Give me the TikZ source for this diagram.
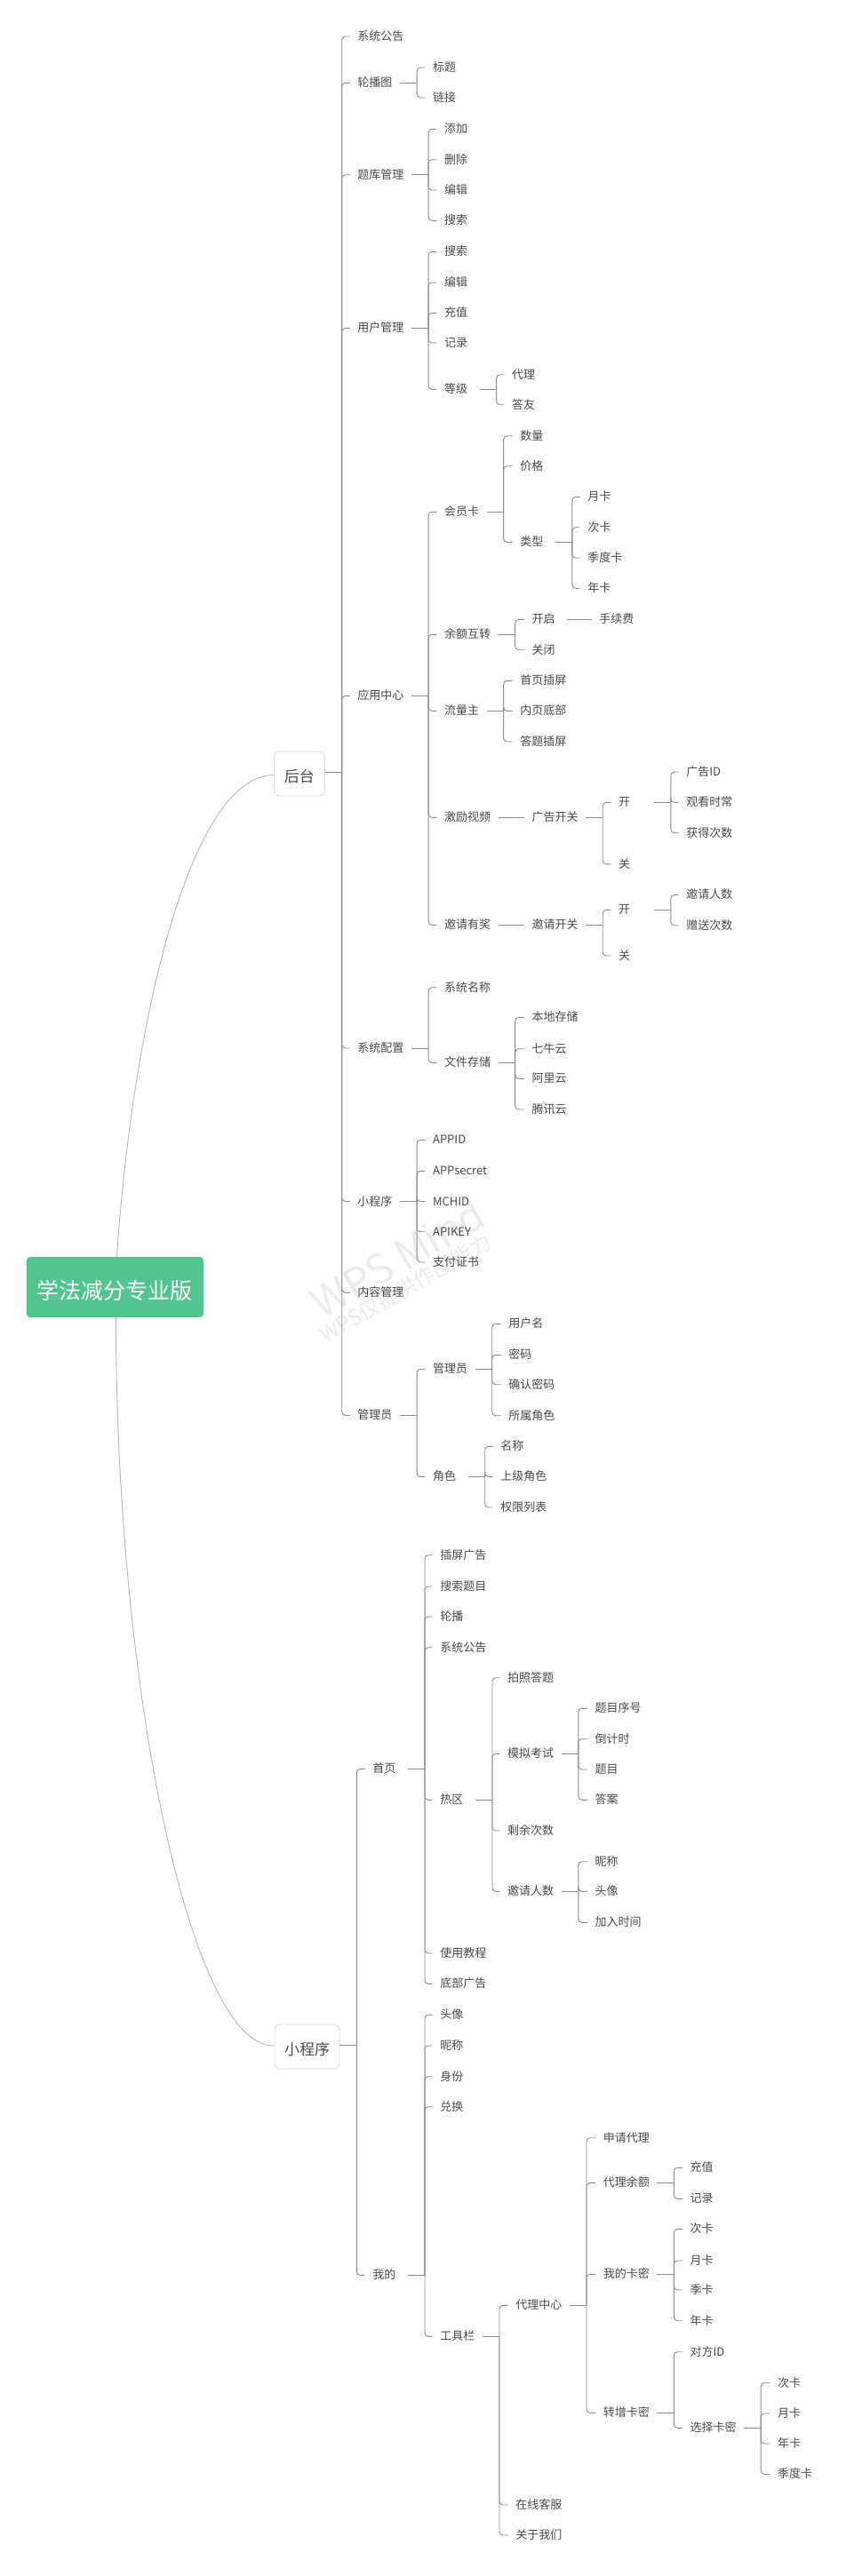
\documentclass[tikz,border=0pt]{standalone}
\usepackage{fontspec}
\setmainfont{Noto Sans CJK SC}
\newcommand{\minw}[1]{\setbox0\hbox{#1}\ifdim\wd0<31pt \hbox to 31pt{\box0\hss}\else\box0\fi}
\newcommand{\nd}[4]{\node[lbl] (#1) at (#2,#3) {\minw{#4}};}
\newcommand{\branch}[2]{\draw[conn] #1 -- ++(19,0) coordinate (tk);
  \foreach \c in {#2} {\draw[conn] (tk) |- (\c.west);}}
\newcommand{\link}[2]{\draw[conn] (#1.east) -- (#2.west);}
\definecolor{rootgreen}{HTML}{52C58F}
\definecolor{txt}{HTML}{4A4A4A}
\definecolor{ln}{HTML}{8C8C8C}
\tikzset{
  lbl/.style={anchor=west,xshift=-8.5pt,inner xsep=8.5pt,inner ysep=0pt,text height=10.5pt,text depth=1.5pt,font=\fontsize{13}{13}\selectfont,text=txt},
  conn/.style={draw=ln,line width=0.9pt,rounded corners=4pt},
  curve/.style={draw=black!28,line width=0.9pt},
  rootbox/.style={fill=rootgreen,rounded corners=4pt,minimum width=199pt,minimum height=68pt,inner sep=0pt,text=white,font=\fontsize{25}{25}\selectfont,text height=27pt,text depth=0pt},
  topbox/.style={draw=black!14,fill=white,rounded corners=6pt,line width=0.9pt,inner sep=0pt,minimum height=50pt,text=txt,font=\fontsize{17}{17}\selectfont,text height=19pt,text depth=0pt},
  wm/.style={text=black!8,rotate=30,inner sep=0pt}
}
\begin{document}
\begin{tikzpicture}[x=0.9957pt,y=-1pt]
\useasboundingbox (0,0) rectangle (956.1,2900);
\fill[white] (0,0) rectangle (956.1,2900);
\node[wm,font=\fontsize{46.5}{46.5}\selectfont] (wma) at (449,1416) {WPS Mind};
\node[wm,font=\fontsize{24}{24}\selectfont] (wmb) at (458,1450) {WPS仅提供作图能力};
\node[rootbox] (root) at (130,1449) {学法减分专业版};
\node[topbox,minimum width=57pt] (ht) at (338.3,871) {后台};
\node[topbox,minimum width=73pt] (xcx) at (347,2304) {小程序};
\draw[curve] ([xshift=2pt]root.north) .. controls (150,1150) and (215,872.7) .. ([yshift=-1.5pt]ht.west);
\draw[curve] ([xshift=1pt]root.south) .. controls (131,1900) and (215,2305) .. ([yshift=1pt]xcx.west);
% 后台
\nd{a1}{404}{41}{系统公告}
\nd{a2}{404}{93.3}{轮播图}
\nd{a3}{404}{196.7}{题库管理}
\nd{a4}{404}{369.3}{用户管理}
\nd{a5}{404}{783.3}{应用中心}
\nd{a6}{404}{1180}{系统配置}
\nd{a7}{404}{1352.5}{小程序}
\nd{a8}{404}{1455.3}{内容管理}
\nd{a9}{404}{1593.3}{管理员}
\nd{b1}{489}{76}{标题}
\nd{b2}{489}{110}{链接}
\nd{c1}{502}{145.3}{添加}
\nd{c2}{502}{179.7}{删除}
\nd{c3}{502}{214}{编辑}
\nd{c4}{502}{248.3}{搜索}
\nd{d1}{502}{283.3}{搜索}
\nd{d2}{502}{318}{编辑}
\nd{d3}{502}{352.3}{充值}
\nd{d4}{502}{386}{记录}
\nd{d5}{502}{438.3}{等级}
\nd{d6}{578.4}{421.7}{代理}
\nd{d7}{578.4}{455.7}{答友}
\nd{e1}{502}{576.3}{会员卡}
\nd{e2}{502}{714.3}{余额互转}
\nd{e3}{502}{800.3}{流量主}
\nd{e4}{502}{920.3}{激励视频}
\nd{e5}{502}{1041.3}{邀请有奖}
\nd{f1}{587.6}{490.7}{数量}
\nd{f2}{587.6}{524.7}{价格}
\nd{f3}{587.6}{610.3}{类型}
\nd{g1}{664}{559.3}{月卡}
\nd{g2}{664}{593.7}{次卡}
\nd{g3}{664}{628}{季度卡}
\nd{g4}{664}{662.3}{年卡}
\nd{h1}{601}{697.3}{开启}
\nd{h2}{601}{731.7}{关闭}
\nd{h3}{677}{697.3}{手续费}
\nd{i1}{587.6}{766.3}{首页插屏}
\nd{i2}{587.6}{800.3}{内页底部}
\nd{i3}{587.6}{835}{答题插屏}
\nd{j1}{601}{920.3}{广告开关}
\nd{j2}{699}{903.3}{开}
\nd{j3}{699}{972.8}{关}
\nd{j4}{775.5}{869}{广告ID}
\nd{j5}{775.5}{903.3}{观看时常}
\nd{j6}{775.5}{937.7}{获得次数}
\nd{k1}{601}{1041.3}{邀请开关}
\nd{k2}{699}{1024.3}{开}
\nd{k3}{699}{1076}{关}
\nd{k4}{775.5}{1007.3}{邀请人数}
\nd{k5}{775.5}{1042}{赠送次数}
\nd{l1}{502}{1111.7}{系统名称}
\nd{l2}{502}{1196.3}{文件存储}
\nd{l3}{601}{1145.3}{本地存储}
\nd{l4}{601}{1180.7}{七牛云}
\nd{l5}{601}{1214.3}{阿里云}
\nd{l6}{601}{1249}{腾讯云}
\nd{m1}{489}{1283.3}{APPID}
\nd{m2}{489}{1318.3}{APPsecret}
\nd{m3}{489}{1352.5}{MCHID}
\nd{m4}{489}{1386.7}{APIKEY}
\nd{m5}{489}{1421}{支付证书}
\nd{n1}{489}{1541.3}{管理员}
\nd{n2}{489}{1662.3}{角色}
\nd{n3}{574.7}{1490.3}{用户名}
\nd{n4}{574.7}{1525.3}{密码}
\nd{n5}{574.7}{1558.7}{确认密码}
\nd{n6}{574.7}{1593.7}{所属角色}
\nd{n7}{565.6}{1628.3}{名称}
\nd{n8}{565.6}{1662.3}{上级角色}
\nd{n9}{565.6}{1697}{权限列表}
% 小程序
\nd{p1}{421}{1991.3}{首页}
\nd{p2}{421}{2561.3}{我的}
\nd{q1}{497.3}{1750.7}{插屏广告}
\nd{q2}{497.3}{1786}{搜索题目}
\nd{q3}{497.3}{1820}{轮播}
\nd{q4}{497.3}{1854.7}{系统公告}
\nd{q5}{497.3}{2026.3}{热区}
\nd{q6}{497.3}{2199}{使用教程}
\nd{q7}{497.3}{2233.3}{底部广告}
\nd{r1}{573.5}{1888.7}{拍照答题}
\nd{r2}{573.5}{1974.3}{模拟考试}
\nd{r3}{573.5}{2061}{剩余次数}
\nd{r4}{573.5}{2129.3}{邀请人数}
\nd{s1}{672.4}{1923.3}{题目序号}
\nd{s2}{672.4}{1957.7}{倒计时}
\nd{s3}{672.4}{1992}{题目}
\nd{s4}{672.4}{2026.3}{答案}
\nd{s5}{672.4}{2095.7}{昵称}
\nd{s6}{672.4}{2129.3}{头像}
\nd{s7}{672.4}{2164.3}{加入时间}
\nd{t1}{497.3}{2268.3}{头像}
\nd{t2}{497.3}{2303}{昵称}
\nd{t3}{497.3}{2337.7}{身份}
\nd{t4}{497.3}{2371.7}{兑换}
\nd{t5}{497.3}{2630.3}{工具栏}
\nd{u1}{582.7}{2595.3}{代理中心}
\nd{u2}{582.7}{2820}{在线客服}
\nd{u3}{582.7}{2854}{关于我们}
\nd{v1}{681.5}{2406.7}{申请代理}
\nd{v2}{681.5}{2457.3}{代理余额}
\nd{v3}{681.5}{2560.3}{我的卡密}
\nd{v4}{681.5}{2716.3}{转增卡密}
\nd{w1}{779.7}{2440.3}{充值}
\nd{w2}{779.7}{2475.3}{记录}
\nd{w3}{779.7}{2509.3}{次卡}
\nd{w4}{779.7}{2545}{月卡}
\nd{w5}{779.7}{2578}{季卡}
\nd{w6}{779.7}{2612.7}{年卡}
\nd{w7}{779.7}{2647.7}{对方ID}
\nd{w8}{779.7}{2733.3}{选择卡密}
\nd{y1}{878.6}{2682.7}{次卡}
\nd{y2}{878.6}{2717}{月卡}
\nd{y3}{878.6}{2751}{年卡}
\nd{y4}{878.6}{2785.3}{季度卡}
% connectors
\branch{([yshift=1.5pt]ht.east)}{a1,a2,a3,a4,a5,a6,a7,a8,a9}
\branch{(a2.east)}{b1,b2}
\branch{(a3.east)}{c1,c2,c3,c4}
\branch{(a4.east)}{d1,d2,d3,d4,d5}
\branch{(d5.east)}{d6,d7}
\branch{(a5.east)}{e1,e2,e3,e4,e5}
\branch{(e1.east)}{f1,f2,f3}
\branch{(f3.east)}{g1,g2,g3,g4}
\branch{(e2.east)}{h1,h2}
\link{h1}{h3}
\branch{(e3.east)}{i1,i2,i3}
\link{e4}{j1}
\branch{(j1.east)}{j2,j3}
\branch{(j2.east)}{j4,j5,j6}
\link{e5}{k1}
\branch{(k1.east)}{k2,k3}
\branch{(k2.east)}{k4,k5}
\branch{(a6.east)}{l1,l2}
\branch{(l2.east)}{l3,l4,l5,l6}
\branch{(a7.east)}{m1,m2,m3,m4,m5}
\branch{(a9.east)}{n1,n2}
\branch{(n1.east)}{n3,n4,n5,n6}
\branch{(n2.east)}{n7,n8,n9}
\branch{([yshift=1.5pt]xcx.east)}{p1,p2}
\branch{(p1.east)}{q1,q2,q3,q4,q5,q6,q7}
\branch{(q5.east)}{r1,r2,r3,r4}
\branch{(r2.east)}{s1,s2,s3,s4}
\branch{(r4.east)}{s5,s6,s7}
\branch{(p2.east)}{t1,t2,t3,t4,t5}
\branch{(t5.east)}{u1,u2,u3}
\branch{(u1.east)}{v1,v2,v3,v4}
\branch{(v2.east)}{w1,w2}
\branch{(v3.east)}{w3,w4,w5,w6}
\branch{(v4.east)}{w7,w8}
\branch{(w8.east)}{y1,y2,y3,y4}
\end{tikzpicture}
\end{document}
